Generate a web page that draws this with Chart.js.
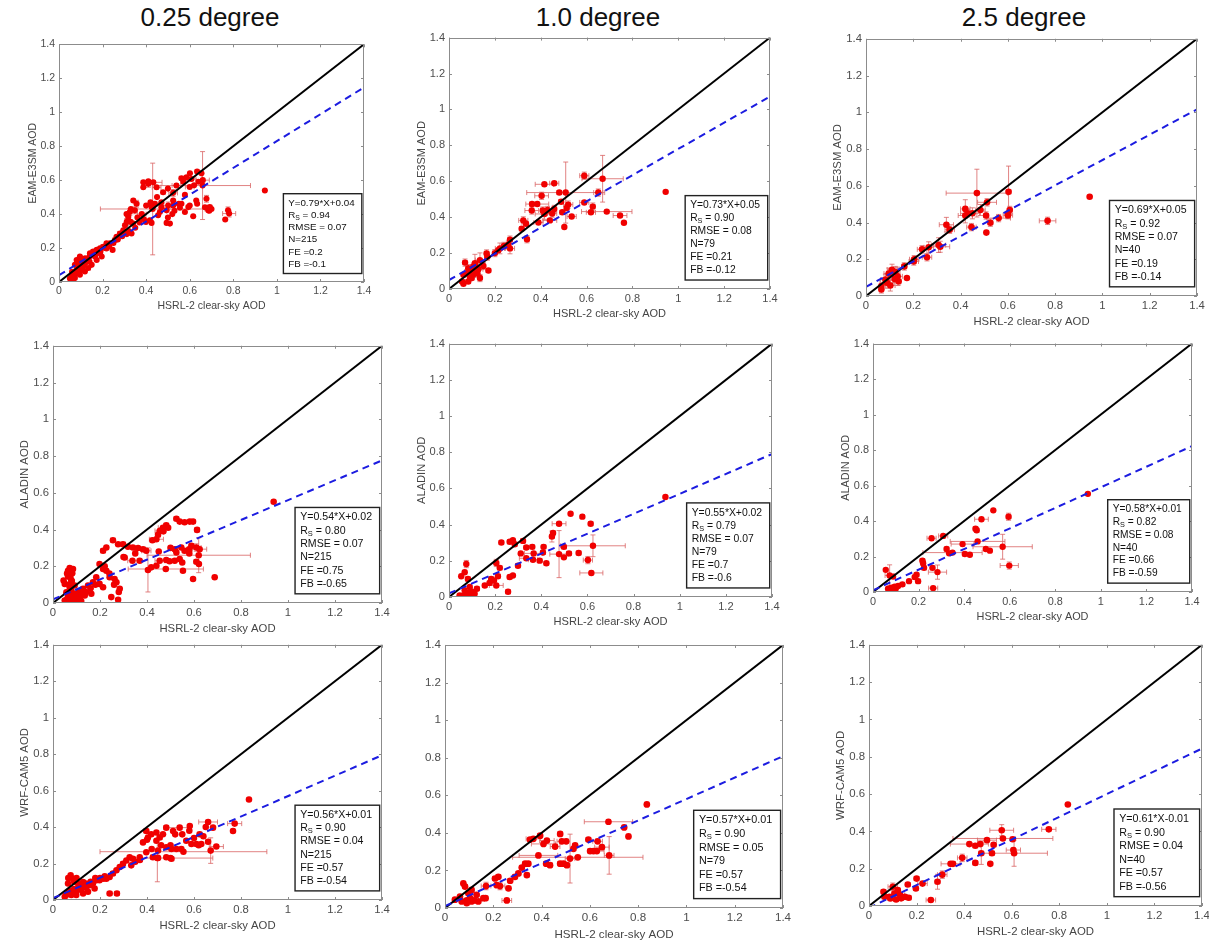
<!DOCTYPE html>
<html><head><meta charset="utf-8">
<script src="https://cdn.jsdelivr.net/npm/chart.js@4/dist/chart.umd.min.js"></script>
<style>
html,body{margin:0;padding:0;background:#fff;}
body{width:1209px;height:945px;overflow:hidden;position:relative;}
.ttl{position:absolute;top:2px;font:26px "Liberation Sans",Arial,sans-serif;color:#111;transform:translateX(-50%);white-space:nowrap;}
</style></head><body>
<div class="ttl" id="t0"></div><div class="ttl" id="t1"></div><div class="ttl" id="t2"></div>
<script>
// ---------- text / labels ----------
const columnTitles = ['0.25 degree','1.0 degree','2.5 degree'];
const tickValues = [0,0.2,0.4,0.6,0.8,1,1.2,1.4];
const tickLabels = ['0','0.2','0.4','0.6','0.8','1','1.2','1.4'];
const xTitle = 'HSRL-2 clear-sky AOD';
const yTitles = ['EAM-E3SM AOD','ALADIN AOD','WRF-CAM5 AOD'];
// ---------- regression statistics ----------
const eqText = ['Y=0.79*X+0.04','Y=0.73*X+0.05','Y=0.69*X+0.05','Y=0.54*X+0.02','Y=0.55*X+0.02','Y=0.58*X+0.01','Y=0.56*X+0.01','Y=0.57*X+0.01','Y=0.61*X-0.01'];
const slopes = [0.79,0.73,0.69,0.54,0.55,0.58,0.56,0.57,0.61];
const intercepts = [0.04,0.05,0.05,0.02,0.02,0.01,0.01,0.01,-0.01];
const rsVals = ['0.94','0.90','0.92','0.80','0.79','0.82','0.90','0.90','0.90'];
const rmseVals = ['0.07','0.08','0.07','0.07','0.07','0.08','0.04','0.05','0.04'];
const nVals = ['215','79','40','215','79','40','215','79','40'];
const feVals = ['0.2','0.21','0.19','0.75','0.7','0.66','0.57','0.57','0.57'];
const fbVals = ['-0.1','-0.12','-0.14','-0.65','-0.6','-0.59','-0.54','-0.54','-0.56'];

// ---------- EAM-E3SM, 0.25 degree ----------
const p11x = [0.945,0.763,0.776,0.781,0.692,0.685,0.677,0.659,0.608,0.634,
0.601,0.654,0.585,0.562,0.539,0.524,0.478,0.448,0.41,0.387,
0.387,0.41,0.433,0.501,0.494,0.463,0.44,0.425,0.417,0.399,
0.425,0.455,0.524,0.555,0.578,0.594,0.634,0.616,0.509,0.494,
0.524,0.562,0.578,0.43,0.356,0.341,0.348,0.325,0.318,0.311,
0.303,0.329,0.341,0.295,0.28,0.311,0.333,0.264,0.257,0.234,
0.218,0.203,0.188,0.173,0.157,0.142,0.246,0.218,0.188,0.165,
0.127,0.112,0.096,0.081,0.066,0.058,0.073,0.096,0.119,0.134,
0.15,0.081,0.096,0.073,0.104,0.173,0.196,0.06,0.07,0.09,
0.11,0.12,0.14,0.1,0.085,0.05,0.065,0.5,0.53,0.47,
0.45,0.6,0.66,0.62,0.7,0.38,0.36,
0.06,0.07,0.08,0.09,0.1,0.11,0.12,0.13,0.1,0.115,
0.14,0.16,0.17,0.19,0.21,0.23,0.25,0.27,0.29,0.3,
0.32,0.35,0.37,0.39,0.31,0.33,0.4,0.42,0.47,0.52,
0.55,0.6,0.63,0.67,0.69,0.64,0.57,0.5];
const p11y = [0.539,0.368,0.422,0.403,0.441,0.422,0.49,0.568,0.607,0.651,
0.64,0.64,0.616,0.611,0.568,0.525,0.529,0.558,0.578,0.587,
0.558,0.593,0.587,0.451,0.422,0.412,0.461,0.441,0.364,0.354,
0.348,0.393,0.451,0.437,0.412,0.441,0.461,0.387,0.344,0.348,
0.48,0.461,0.513,0.43,0.461,0.48,0.422,0.412,0.383,0.354,
0.334,0.354,0.344,0.305,0.286,0.282,0.286,0.266,0.247,0.228,
0.228,0.208,0.198,0.189,0.179,0.169,0.189,0.198,0.169,0.15,
0.13,0.111,0.091,0.072,0.053,0.033,0.023,0.043,0.062,0.082,
0.101,0.13,0.15,0.101,0.082,0.13,0.15,0.06,0.04,0.06,
0.09,0.14,0.12,0.12,0.1,0.02,0.015,0.38,0.42,0.47,
0.5,0.56,0.6,0.57,0.43,0.4,0.38,
0.03,0.06,0.05,0.08,0.07,0.1,0.11,0.13,0.14,0.125,
0.15,0.16,0.17,0.18,0.2,0.21,0.23,0.25,0.27,0.29,
0.3,0.32,0.35,0.37,0.4,0.43,0.45,0.47,0.44,0.4,
0.46,0.45,0.48,0.44,0.42,0.59,0.59,0.55];
const p11xe = [0,0,0,0.03,0.01,0,0,0.22,0.02,0,
0,0,0,0.01,0.02,0.02,0.01,0.02,0.01,0,
0,0,0.04,0.02,0,0,0.02,0,0,0,
0,0,0,0,0,0.01,0,0,0,0,
0,0,0,0.24,0.01,0,0.01,0,0.01,0.01,
0,0,0,0,0.01,0,0,0,0.01,0,
0,0.01,0,0,0.01,0,0,0,0,0,
0.01,0,0.01,0,0,0,0,0,0,0.01,
0,0,0,0,0,0,0,0,0,0,
0,0,0,0,0,0,0,0,0,0,
0,0.02,0.03,0,0,0.02,0];
const p11ye = [0,0,0.02,0.02,0.01,0,0.02,0.2,0.01,0.01,
0,0,0,0.01,0.01,0.02,0,0.01,0.02,0.01,
0,0,0.01,0.02,0,0,0.01,0,0,0,
0,0,0,0,0,0,0,0,0,0,
0,0,0,0.27,0.02,0.01,0.02,0.02,0.01,0.02,
0.01,0,0,0,0.01,0,0,0,0.01,0,
0,0.01,0,0,0.01,0,0,0,0,0,
0.02,0,0.01,0,0,0,0,0,0,0.01,
0,0,0,0,0,0,0,0,0,0,
0,0,0,0,0,0,0,0,0,0,
0,0.01,0.01,0,0,0.01,0];

// ---------- EAM-E3SM, 1.0 degree ----------
const p12x = [0.945,0.763,0.746,0.688,0.67,0.627,0.619,0.59,0.59,0.651,
0.535,0.513,0.503,0.509,0.494,0.489,0.481,0.459,0.416,0.459,
0.44,0.409,0.416,0.404,0.385,0.361,0.362,0.324,0.336,0.34,
0.317,0.266,0.266,0.259,0.222,0.215,0.164,0.167,0.135,0.172,
0.113,0.084,0.07,0.077,0.092,0.109,0.128,0.135,0.124,0.057,
0.063,0.084,0.106,0.15,0.099,0.063,0.45,0.43,0.52,0.39,
0.2,0.24,0.12,0.1];
const p12y = [0.541,0.369,0.409,0.431,0.614,0.459,0.427,0.482,0.631,0.537,
0.404,0.451,0.345,0.537,0.427,0.486,0.537,0.589,0.583,0.446,
0.382,0.437,0.418,0.519,0.473,0.437,0.473,0.382,0.363,0.277,
0.336,0.275,0.226,0.248,0.226,0.216,0.198,0.18,0.161,0.103,
0.143,0.116,0.147,0.088,0.066,0.084,0.11,0.061,0.088,0.042,
0.029,0.042,0.125,0.128,0.061,0.079,0.42,0.44,0.47,0.37,
0.2,0.24,0.12,0.1];
const p12xe = [0,0,0.03,0.11,0.09,0.01,0.02,0.02,0.02,0.02,
0.02,0.01,0,0.17,0.01,0.01,0.01,0.02,0.04,0.01,
0.03,0.01,0.04,0.03,0.05,0.03,0.01,0.02,0.01,0.01,
0.01,0.01,0.02,0.01,0.02,0.01,0.01,0.01,0.02,0.01,
0.01,0.01,0.01,0.01,0.01,0.01,0.02,0.01,0.01,0,
0,0.01,0.01,0.01,0.01,0,0.02,0.03,0.02,0.02,
0.01,0.01,0.01,0.01];
const p12ye = [0,0,0.01,0.01,0.13,0.02,0.01,0.01,0.02,0.02,
0.01,0.01,0,0.17,0.01,0.01,0.01,0.01,0.01,0.02,
0.01,0.02,0.03,0.02,0.01,0.02,0.01,0.02,0.01,0.02,
0.01,0.02,0.03,0.02,0.03,0.01,0.02,0.02,0.04,0.01,
0.05,0.02,0.02,0.02,0.02,0.02,0.03,0.02,0.02,0.01,
0,0.01,0.02,0.02,0.01,0.01,0.02,0.02,0.02,0.01,
0.02,0.02,0.02,0.02];

// ---------- EAM-E3SM, 2.5 degree ----------
const p13x = [0.946,0.768,0.603,0.608,0.601,0.561,0.526,0.509,0.508,0.512,
0.469,0.484,0.446,0.42,0.42,0.34,0.354,0.307,0.314,0.265,
0.258,0.237,0.204,0.202,0.162,0.173,0.138,0.134,0.11,0.096,
0.089,0.065,0.065,0.082,0.121,0.103,0.124,0.45,0.6,0.43];
const p13y = [0.54,0.409,0.567,0.468,0.442,0.424,0.399,0.345,0.438,0.51,
0.56,0.468,0.375,0.438,0.474,0.388,0.361,0.277,0.268,0.265,
0.211,0.254,0.2,0.188,0.161,0.098,0.08,0.107,0.143,0.122,
0.072,0.054,0.036,0.089,0.093,0.057,0.131,0.45,0.44,0.45];
const p13xe = [0,0.035,0.01,0.01,0.01,0.05,0.01,0,0.01,0.04,
0.13,0.02,0.02,0.03,0.02,0.03,0.02,0.03,0.04,0.02,
0.02,0.02,0.02,0.02,0.01,0,0.01,0.02,0.02,0.02,
0.03,0,0,0.02,0.01,0.02,0.02,0.03,0.02,0.03];
const p13ye = [0,0.02,0.14,0.02,0.02,0.02,0.02,0,0.02,0.02,
0.13,0.03,0.02,0.04,0.05,0.04,0.02,0.04,0.03,0.03,
0.02,0.02,0.02,0.02,0.02,0,0.02,0.05,0.03,0.03,
0.03,0,0.02,0.03,0.02,0.03,0.03,0.03,0.02,0.02];

// ---------- ALADIN, 0.25 degree ----------
const p21x = [0.939,
0.525,0.539,0.582,0.596,0.613,0.482,0.468,0.454,0.447,0.44,0.423,
0.213,0.227,0.255,0.277,0.298,0.319,0.34,0.362,0.383,0.397,
0.305,0.338,0.369,0.404,
0.62,0.48,
0.518,0.525,0.546,0.56,0.579,0.589,0.61,0.624,0.482,0.496,0.518,0.539,0.553,0.596,0.61,0.621,0.688,0.418,0.44,0.454,
0.198,0.213,0.227,0.241,0.262,0.27,0.284,0.248,0.277,0.184,0.17,0.149,0.128,0.111,0.092,0.071,0.198,0.213,0.163,0.135,
0.071,0.074,0.064,0.078,0.045,0.05,0.071,0.057,0.05,0.064,0.078,0.092,0.106,0.085,0.064,0.099,0.078,0.092,0.113,0.12,0.074,0.064,0.085,0.082,
0.06,0.07,0.08,0.09,0.1,0.11,0.12,0.14,0.16,0.18,0.07,0.08,0.06,0.075,0.22,0.24,0.26,0.28,0.3,0.35,0.45,0.5,0.55,0.58,0.47,0.49,0.56];
const p21y = [0.551,
0.459,0.443,0.443,0.443,0.398,0.423,0.41,0.392,0.371,0.347,0.342,
0.284,0.302,0.342,0.32,0.32,0.306,0.302,0.299,0.293,0.284,
0.248,0.23,0.23,0.18,
0.26,0.185,
0.293,0.275,0.302,0.284,0.293,0.311,0.302,0.293,0.234,0.227,0.23,0.239,0.176,0.131,0.225,0.212,0.14,0.194,0.203,0.23,
0.212,0.185,0.176,0.14,0.131,0.113,0.077,0.032,0.018,0.14,0.113,0.095,0.077,0.063,0.05,0.041,0.104,0.086,0.05,0.041,
0.191,0.167,0.144,0.122,0.122,0.104,0.086,0.059,0.014,0.005,0.005,0.011,0.018,0.032,0.032,0.05,0.068,0.095,0.032,0.011,0.14,0.176,0.185,0.162,
0.02,0.03,0.04,0.02,0.03,0.04,0.05,0.06,0.08,0.1,0.1,0.12,0.16,0.18,0.2,0.16,0.1,0.06,0.25,0.27,0.28,0.3,0.22,0.27,0.39,0.41,0.44];
const p21xe = [0,
0.01,0,0,0.01,0.01,0.01,0.02,0.02,0.01,0.03,0.01,
0.01,0,0.01,0,0.01,0,0.01,0,0.01,0.02,
0,0.02,0,0,
0.22,0.16,
0,0,0,0.01,0,0.01,0.02,0.03,0,0,0.02,0,0,0,0.01,0,0,0,0,0.02];
const p21ye = [0,
0.01,0,0,0,0.01,0.01,0.01,0.01,0.01,0.01,0,
0.01,0,0,0,0.01,0,0,0,0.01,0,
0,0,0,0.12,
0.095,0,
0,0,0,0.01,0,0.01,0.02,0.01,0,0,0.01,0,0,0,0.01,0,0,0,0,0.01];

// ---------- ALADIN, 1.0 degree ----------
const p22x = [0.938,0.578,0.527,0.614,0.477,0.451,0.446,0.422,0.477,0.498,
0.498,0.52,0.562,0.602,0.617,0.624,0.367,0.335,0.311,0.364,
0.393,0.407,0.41,0.361,0.335,0.285,0.321,0.277,0.263,0.227,
0.299,0.205,0.22,0.212,0.195,0.183,0.263,0.277,0.256,0.205,
0.176,0.155,0.121,0.075,0.068,0.053,0.082,0.09,0.104,0.061,
0.046,0.068,0.087,0.097,0.075,0.111];
const p22y = [0.553,0.444,0.46,0.405,0.405,0.354,0.334,0.186,0.237,0.219,
0.277,0.241,0.243,0.204,0.133,0.283,0.241,0.214,0.241,0.206,
0.201,0.246,0.277,0.277,0.274,0.292,0.31,0.314,0.305,0.301,
0.173,0.188,0.161,0.115,0.091,0.1,0.11,0.119,0.029,0.064,
0.078,0.064,0.046,0.182,0.137,0.115,0.1,0.055,0.018,0.009,
0.009,0.037,0.022,0.031,0.018,0.018];
const p22xe = [0,0,0,0.01,0.03,0.01,0.01,0.01,0.04,0,
0.01,0.01,0.01,0.02,0.05,0.14,0.04,0.03,0,0.02,
0.01,0.01,0.01,0.01,0.01,0.01,0.01,0,0.01,0.01,
0.01,0.01,0.01,0.01,0,0.01,0.01,0,0.01,0.03,
0.01,0.01,0.01,0,0,0,0.01,0,0.01,0,
0,0,0,0.01,0,0];
const p22ye = [0,0.01,0,0.01,0.01,0.01,0.03,0.01,0.13,0,
0.01,0.01,0.01,0.02,0.01,0.06,0.01,0.01,0,0.01,
0.01,0.01,0.01,0.01,0.01,0.01,0.01,0,0.01,0.01,
0.01,0.02,0.01,0.01,0,0.01,0.01,0,0.01,0.01,
0.01,0.01,0.01,0.02,0.01,0,0.01,0,0.01,0,
0,0,0,0.01,0,0];

// ---------- ALADIN, 2.5 degree ----------
const p23x = [0.943,0.528,0.595,0.476,0.45,0.455,0.459,0.569,0.495,0.513,
0.425,0.403,0.393,0.349,0.334,0.323,0.308,0.257,0.598,0.217,
0.22,0.224,0.261,0.283,0.191,0.198,0.183,0.158,0.264,0.129,
0.11,0.081,0.073,0.056,0.073,0.088,0.066,0.088,0.1,0.095];
const p23y = [0.553,0.46,0.424,0.41,0.357,0.348,0.285,0.255,0.242,0.233,
0.21,0.214,0.27,0.222,0.218,0.242,0.316,0.303,0.149,0.177,
0.162,0.136,0.136,0.112,0.097,0.061,0.084,0.061,0.022,0.043,
0.034,0.024,0.019,0.125,0.093,0.087,0.019,0.019,0.02,0.03];
const p23xe = [0,0,0.01,0.03,0.01,0.01,0.12,0.13,0,0,
0,0.01,0.05,0.13,0,0.01,0.02,0.02,0.04,0.01,
0.01,0.01,0.01,0.04,0.01,0.01,0.01,0,0.02,0.01,
0,0,0,0,0.02,0.01,0,0,0,0];
const p23ye = [0,0,0.02,0.01,0.01,0.01,0,0.07,0,0,
0,0,0.01,0.01,0,0.01,0.01,0.01,0.02,0.01,
0.01,0.01,0.01,0.04,0.01,0.01,0.01,0,0.01,0.01,
0,0,0,0,0.06,0.01,0,0,0,0];

// ---------- WRF-CAM5, 0.25 degree ----------
const p31x = [0.834,
0.773,0.766,0.66,0.681,0.695,0.671,0.66,0.631,0.61,0.589,
0.567,0.624,0.582,0.539,0.511,0.482,0.468,0.454,0.44,0.418,
0.397,0.404,0.383,0.482,0.504,0.525,0.546,0.447,0.425,0.447,
0.482,0.504,0.397,0.369,0.34,0.326,0.312,0.298,0.333,0.284,
0.27,0.255,0.241,0.227,0.213,0.198,0.184,0.17,0.156,0.142,
0.128,0.113,0.099,0.085,0.071,0.057,0.05,0.078,0.099,0.128,
0.149,0.177,0.075,0.085,0.064,0.106,0.128,0.241,0.272,0.444,
0.555,0.5,
0.06,0.07,0.08,0.09,0.1,0.11,0.12,0.13,0.14,0.16,0.18,0.2,0.22,0.065,0.09,0.1,
0.35,0.37,0.42,0.46,0.5,0.52,0.55,0.58,0.6,0.64,0.62,0.65,0.44,0.4];
const p31y = [0.551,
0.419,0.379,0.428,0.397,0.293,0.271,0.32,0.307,0.307,0.307,
0.325,0.361,0.406,0.397,0.379,0.397,0.361,0.343,0.325,0.361,
0.379,0.343,0.316,0.289,0.28,0.28,0.28,0.271,0.235,0.231,
0.235,0.226,0.262,0.235,0.226,0.235,0.217,0.199,0.19,0.181,
0.163,0.145,0.126,0.117,0.117,0.108,0.108,0.09,0.081,0.072,
0.067,0.058,0.054,0.051,0.045,0.036,0.018,0.027,0.027,0.036,
0.045,0.063,0.135,0.117,0.09,0.09,0.099,0.036,0.036,0.23,
0.265,0.23,
0.03,0.05,0.04,0.06,0.05,0.07,0.06,0.08,0.09,0.1,0.12,0.12,0.13,0.12,0.1,0.12,
0.21,0.22,0.28,0.3,0.3,0.36,0.36,0.38,0.34,0.35,0.3,0.4,0.37,0.33];
const p31xe = [0,
0.03,0,0.04,0,0.03,0,0.01,0,0.01,0,
0,0.01,0,0.05,0,0.01,0,0.01,0,0.01,
0.01,0,0,0,0.01,0,0.01,0,0.01,0,
0,0.01,0,0,0.01,0,0,0.01,0,0,
0,0.01,0,0,0.01,0,0,0,0,0,
0,0,0,0,0,0,0,0,0,0,
0,0,0,0,0,0,0,0.01,0.01,0,
0.355,0.18];
const p31ye = [0,
0.01,0.01,0.01,0,0.01,0.07,0,0,0,0,
0,0.01,0,0.01,0,0.01,0,0.01,0,0,
0.01,0,0,0,0.01,0,0,0,0.01,0,
0,0.01,0,0,0,0,0,0.01,0,0,
0,0.01,0,0,0,0,0,0,0,0,
0,0,0,0,0,0,0,0,0,0,
0,0,0,0,0,0,0,0,0,0.13,
0,0];

// ---------- WRF-CAM5, 1.0 degree ----------
const p32x = [0.836,0.76,0.742,0.677,0.68,0.65,0.629,0.615,0.601,0.594,
0.632,0.539,0.532,0.518,0.502,0.484,0.477,0.456,0.491,0.477,
0.505,0.55,0.422,0.408,0.394,0.366,0.352,0.419,0.435,0.387,
0.345,0.332,0.318,0.339,0.304,0.29,0.27,0.263,0.228,0.214,
0.207,0.221,0.17,0.168,0.256,0.131,0.11,0.097,0.076,0.083,
0.062,0.069,0.09,0.104,0.12,0.138,0.159,0.041,0.09,0.11];
const p32y = [0.551,0.381,0.429,0.459,0.28,0.324,0.303,0.303,0.303,0.364,
0.355,0.333,0.315,0.263,0.355,0.355,0.394,0.327,0.236,0.236,
0.228,0.27,0.359,0.341,0.385,0.368,0.364,0.236,0.228,0.28,
0.236,0.236,0.215,0.175,0.184,0.166,0.145,0.105,0.117,0.122,
0.157,0.166,0.117,0.052,0.04,0.07,0.096,0.079,0.131,0.114,
0.061,0.035,0.04,0.052,0.04,0.035,0.052,0.044,0.026,0.035];
const p32xe = [0,0,0,0.1,0.02,0.03,0.03,0.01,0.01,0.01,
0.02,0.01,0.01,0.02,0.01,0.02,0.01,0.02,0.01,0.01,
0.01,0.27,0.03,0.05,0.01,0.03,0.01,0.01,0.01,0.08,
0.01,0.01,0.01,0.01,0.01,0.01,0.01,0.01,0.02,0.01,
0.01,0.01,0.02,0.01,0.02,0.01,0.01,0.01,0,0.01,
0,0,0.01,0.01,0.01,0.01,0.01,0,0.01,0.01];
const p32ye = [0,0,0,0.01,0.1,0.01,0.01,0.01,0.01,0.01,
0.01,0.01,0.01,0.13,0.01,0.01,0.01,0.01,0.01,0.01,
0.01,0,0.01,0.01,0.01,0.01,0.01,0.01,0.01,0.01,
0.01,0.01,0.01,0.01,0.01,0.01,0.01,0.01,0.02,0.01,
0.01,0.01,0.02,0.01,0.01,0.01,0.01,0.01,0,0.01,
0,0,0.01,0.01,0.01,0.01,0.01,0,0.01,0.01];

// ---------- WRF-CAM5, 2.5 degree ----------
const p33x = [0.836,0.756,0.558,0.563,0.604,0.607,0.61,0.496,0.524,0.517,
0.51,0.472,0.468,0.447,0.422,0.447,0.392,0.353,0.343,0.308,
0.288,0.225,0.2,0.197,0.163,0.167,0.26,0.121,0.107,0.086,
0.065,0.061,0.1,0.135,0.114,0.151,0.13,0.09];
const p33y = [0.544,0.411,0.406,0.362,0.358,0.3,0.283,0.353,0.328,0.283,
0.226,0.283,0.332,0.323,0.332,0.231,0.258,0.226,0.226,0.168,
0.13,0.12,0.147,0.094,0.115,0.044,0.032,0.085,0.067,0.049,
0.049,0.076,0.103,0.041,0.035,0.049,0.06,0.04];
const p33xe = [0,0.03,0.05,0.21,0.01,0.03,0.14,0.04,0.01,0.01,
0,0.01,0.01,0.01,0.08,0.01,0.02,0.01,0.04,0.02,
0.01,0.02,0.01,0.01,0.01,0.01,0.02,0.01,0.01,0.01,
0.01,0.01,0.02,0.01,0.01,0.01,0.02,0.01];
const p33ye = [0,0.01,0.03,0.01,0.01,0.01,0.07,0.01,0.01,0.01,
0,0.06,0.01,0.01,0.01,0.01,0.02,0.01,0.01,0.02,
0.04,0.01,0.01,0.01,0.01,0.01,0.01,0.01,0.01,0.01,
0.01,0.01,0.02,0.01,0.01,0.01,0.01,0.01];

// ---------- layout (pixels, not data) ----------
const panelBoxes = [
  [59,42,364,282],[449,35,770,289],[866,36,1197,296],
  [53,343,382,603],[449,341,772,597],[873,341,1192,592],
  [53,642,382,900],[445,642,783,908],[869,642,1202,906]];
const titleCenters = [210,598,1024];
const statBoxX = [1.03,1.39], statBoxY = [0.05,0.52];
const FONT = '"Liberation Sans", Arial, Helvetica, sans-serif';

columnTitles.forEach((t,i)=>{ const d=document.getElementById('t'+i); d.textContent=t; d.style.left=titleCenters[i]+'px'; });

const panels = [
  [p11x,p11y,p11xe,p11ye],[p12x,p12y,p12xe,p12ye],[p13x,p13y,p13xe,p13ye],
  [p21x,p21y,p21xe,p21ye],[p22x,p22y,p22xe,p22ye],[p23x,p23y,p23xe,p23ye],
  [p31x,p31y,p31xe,p31ye],[p32x,p32y,p32xe,p32ye],[p33x,p33y,p33xe,p33ye]];

function makePanel(i){
  const [xs,ys,xe,ye] = panels[i];
  const [L,T,R,B] = panelBoxes[i];
  const fs = Math.min(1.05, Math.max(0.94, (R-L)/321));
  const ML = Math.round(34*fs), MT = 8, MR = 14, MB = Math.round(32*fs);
  const w = R-L+ML+MR, h = B-T+MT+MB;
  const cv = document.createElement('canvas');
  cv.width = w; cv.height = h;
  cv.style.cssText = `position:absolute;left:${L-ML}px;top:${T-MT}px;width:${w}px;height:${h}px;`;
  document.body.appendChild(cv);
  const row = Math.floor(i/3);
  const a = slopes[i], b = intercepts[i];

  const overlay = {
    id:'overlay'+i,
    beforeDatasetsDraw(chart){
      const {ctx, chartArea:ca, scales:{x,y}} = chart;
      ctx.save();
      ctx.beginPath(); ctx.rect(ca.left,ca.top,ca.right-ca.left,ca.bottom-ca.top); ctx.clip();
      ctx.strokeStyle='rgba(218,100,100,0.8)'; ctx.lineWidth=1;
      const cap=2.5;
      xs.forEach((xv,k)=>{
        const yv=ys[k], ex=xe[k]||0, ey=ye[k]||0;
        const px=x.getPixelForValue(xv), py=y.getPixelForValue(yv);
        ctx.beginPath();
        if(ex>0){
          const p0=x.getPixelForValue(xv-ex), p1=x.getPixelForValue(xv+ex);
          ctx.moveTo(p0,py); ctx.lineTo(p1,py);
          ctx.moveTo(p0,py-cap); ctx.lineTo(p0,py+cap);
          ctx.moveTo(p1,py-cap); ctx.lineTo(p1,py+cap);
        }
        if(ey>0){
          const q0=y.getPixelForValue(yv-ey), q1=y.getPixelForValue(yv+ey);
          ctx.moveTo(px,q0); ctx.lineTo(px,q1);
          ctx.moveTo(px-cap,q0); ctx.lineTo(px+cap,q0);
          ctx.moveTo(px-cap,q1); ctx.lineTo(px+cap,q1);
        }
        ctx.stroke();
      });
      ctx.restore();
    },
    afterDatasetsDraw(chart){
      const {ctx, chartArea:ca, scales:{x,y}} = chart;
      ctx.save();
      ctx.strokeStyle='#8c8c8c'; ctx.lineWidth=1;
      ctx.strokeRect(Math.round(ca.left)+0.5, Math.round(ca.top)+0.5, Math.round(ca.right-ca.left)-1, Math.round(ca.bottom-ca.top)-1);
      ctx.beginPath();
      const tl=3;
      tickValues.forEach(v=>{
        const px=Math.round(x.getPixelForValue(v))+0.5, py=Math.round(y.getPixelForValue(v))+0.5;
        ctx.moveTo(px,ca.bottom); ctx.lineTo(px,ca.bottom-tl);
        ctx.moveTo(px,ca.top); ctx.lineTo(px,ca.top+tl);
        ctx.moveTo(ca.left,py); ctx.lineTo(ca.left+tl,py);
        ctx.moveTo(ca.right,py); ctx.lineTo(ca.right-tl,py);
      });
      ctx.stroke();
      const bx0=x.getPixelForValue(statBoxX[0]), bx1=x.getPixelForValue(statBoxX[1]);
      const by0=y.getPixelForValue(statBoxY[1]), by1=y.getPixelForValue(statBoxY[0]);
      ctx.fillStyle='#fff'; ctx.fillRect(bx0,by0,bx1-bx0,by1-by0);
      ctx.strokeStyle='#222'; ctx.lineWidth=1.4; ctx.strokeRect(bx0,by0,bx1-bx0,by1-by0);
      const hh=by1-by0, pad=hh*0.115, step=(hh-2*pad)/5;
      const f=`${(10.3*fs).toFixed(1)}px ${FONT}`, fsub=`${(7.3*fs).toFixed(1)}px ${FONT}`;
      ctx.fillStyle='#111'; ctx.textBaseline='middle'; ctx.textAlign='left';
      const tx=bx0+5*fs;
      const lines=[eqText[i], null, 'RMSE = '+rmseVals[i], 'N='+nVals[i], 'FE ='+feVals[i], 'FB ='+fbVals[i]];
      lines.forEach((s,k)=>{
        const ty=by0+pad+k*step;
        ctx.font=f;
        if(s===null){
          ctx.fillText('R',tx,ty); const wR=ctx.measureText('R').width;
          ctx.font=fsub; ctx.fillText('S',tx+wR,ty+3*fs); const wS=ctx.measureText('S').width;
          ctx.font=f; ctx.fillText(' = '+rsVals[i],tx+wR+wS,ty);
        } else ctx.fillText(s,tx,ty);
      });
      ctx.restore();
    }
  };

  const tickFont = {family:FONT, size:+(11*fs).toFixed(1)};
  const titleFont = {family:FONT, size:+(11*fs).toFixed(1)};
  new Chart(cv, {
    type:'scatter',
    data:{datasets:[
      {type:'line', data:[{x:0,y:0},{x:1.4,y:1.4}], borderColor:'#000', borderWidth:2, pointRadius:0, showLine:true, order:1},
      {type:'line', data:[{x:0,y:b},{x:1.4,y:a*1.4+b}], borderColor:'#1c1ce0', borderWidth:2, borderDash:[7,5], pointRadius:0, showLine:true, order:0},
      {data:xs.map((xv,k)=>({x:xv,y:ys[k]})), backgroundColor:'#f00000', borderColor:'#e00000', borderWidth:0, pointRadius:3.2*fs, order:2}
    ]},
    options:{
      responsive:false, animation:false, devicePixelRatio:1,
      layout:{padding:{left:0,top:MT,right:MR,bottom:0}},
      plugins:{legend:{display:false}, tooltip:{enabled:false}},
      scales:{
        x:{type:'linear', position:'bottom', min:0, max:1.4,
          afterBuildTicks:s=>{ s.ticks = tickValues.map(v=>({value:v})); },
          afterFit:s=>{ s.height = MB; },
          grid:{display:false, drawTicks:false}, border:{display:false},
          ticks:{autoSkip:false, maxRotation:0, padding:3, color:'#4d4d4d', font:tickFont, callback:(v,idx)=>tickLabels[idx]},
          title:{display:true, text:xTitle, color:'#454545', font:titleFont, padding:{top:0,bottom:0}}
        },
        y:{type:'linear', position:'left', min:0, max:1.4,
          afterBuildTicks:s=>{ s.ticks = tickValues.map(v=>({value:v})); },
          afterFit:s=>{ s.width = ML; },
          grid:{display:false, drawTicks:false}, border:{display:false},
          ticks:{autoSkip:false, padding:4, color:'#4d4d4d', font:tickFont, callback:(v,idx)=>tickLabels[idx]},
          title:{display:i!==7, text:yTitles[row], color:'#454545', font:titleFont, padding:{top:0,bottom:0}}
        }
      }
    },
    plugins:[overlay]
  });
}
for(let i=0;i<9;i++) makePanel(i);
</script>
</body></html>
